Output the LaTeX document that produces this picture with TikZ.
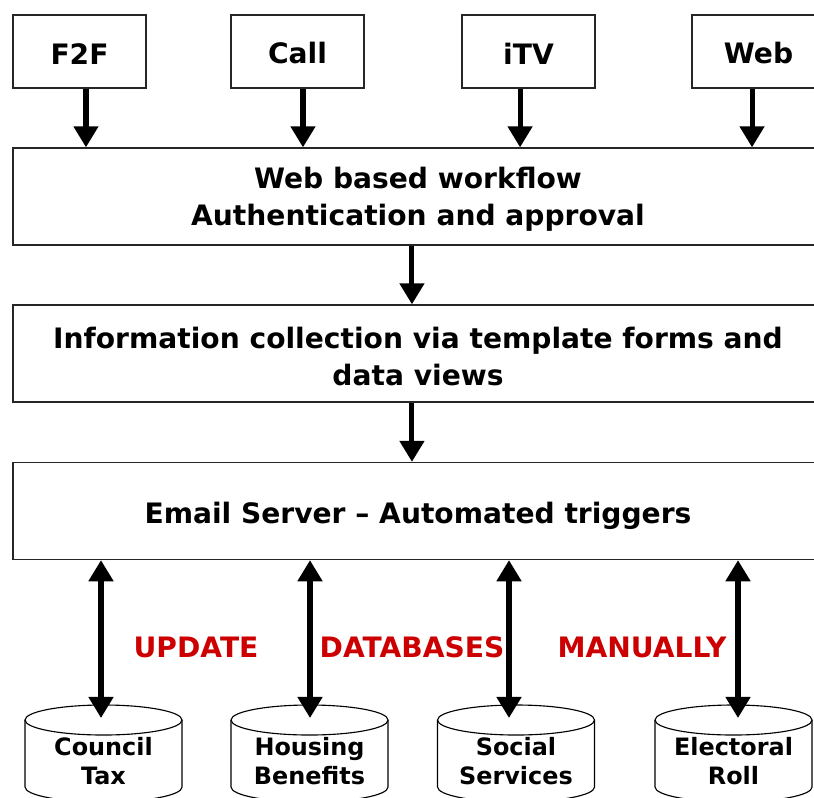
\documentclass[tikz,border=0pt]{standalone}
\usepackage{fontspec}
\setmainfont{DejaVu Sans}
\usetikzlibrary{arrows.meta}

\tikzset{
  lowered/.style={execute at begin node={\rule{0pt}{#1}}},
  chan/.style={draw=black!85, line width=0.9pt, minimum width=3.325cm, minimum height=1.825cm,
    inner sep=0pt, font=\bfseries\fontsize{20}{24}\selectfont, lowered=18pt},
  stage/.style={draw=black!85, line width=0.9pt, minimum width=20.25cm, minimum height=2.425cm,
    inner sep=0pt, align=center, font=\bfseries\fontsize{20}{26.3}\selectfont},
  db/.style={inner sep=0pt, align=center, font=\bfseries\fontsize{17}{20.6}\selectfont},
  dbline/.style={draw=black, line width=0.8pt},
  note/.style={text=red!80!black, font=\bfseries\fontsize{20}{24}\selectfont},
  arr/.style={line width=3.6pt, -{Triangle[length=15pt,width=17pt]}},
  darr/.style={line width=3.6pt, {Triangle[length=15pt,width=17pt]}-{Triangle[length=15pt,width=17pt]}}
}

\begin{document}
\begin{tikzpicture}[x=0.025cm, y=-0.025cm]
\useasboundingbox (0,0) rectangle (814,797);
% access channels
\node[chan] (f2f) at (79.5,51.5) {F2F};
\node[chan] (call) at (297.5,51.5) {Call};
\node[chan] (itv) at (528.5,51.5) {iTV};
\node[chan] (web) at (758.5,51.5) {Web};
% processing stages
\node[stage, lowered=45.7pt] (flow) at (418,196.5) {Web based workflow\\Authentication and approval};
\node[stage, lowered=45.7pt] (collect) at (418,353.5) {Information collection via template forms and\\data views};
\node[stage, lowered=22.3pt] (email) at (418,511) {Email Server -- Automated triggers};
% back office databases
\node[db] (tax) at (103.5,761.5) {Council\\Tax};
\node[db] (housing) at (309.5,761.5) {Housing\\Benefits};
\node[db] (social) at (516,761.5) {Social\\Services};
\node[db] (roll) at (733.5,761.5) {Electoral\\Roll};
\foreach \n in {tax,housing,social,roll} {
  \draw[dbline] ([shift={(0,-41.5)}]\n.center) ellipse [x radius=1.9625cm, y radius=0.375cm];
  \draw[dbline] ([shift={(-78.5,-41.5)}]\n.center) -- ([shift={(-78.5,25.5)}]\n.center)
    arc [start angle=180, end angle=360, x radius=1.9625cm, y radius=0.375cm]
    -- ([shift={(78.5,-41.5)}]\n.center);
}
% red labels
\node[note] (update) at (196,647) {UPDATE};
\node[note] (dbases) at (412,647) {DATABASES};
\node[note] (manual) at (642,647) {MANUALLY};

\foreach \n/\s in {f2f/4.6pt, call/3.9pt, itv/-6pt, web/-4.6pt}
  \draw[arr] ([xshift=\s]\n.south) -- ([xshift=\s]\n.south |- flow.north);
\draw[arr] ([xshift=-4.3pt]flow.south) -- ([xshift=-4.3pt]flow.south |- collect.north);
\draw[arr] ([xshift=-4.3pt]collect.south) -- ([xshift=-4.3pt]collect.south |- email.north);
\foreach \n/\s in {tax/-2.5, housing/0.5, social/-7, roll/4.5}
  \draw[darr] ([shift={(\s,0)}]\n.center |- email.south) -- ([shift={(\s,-43.5)}]\n.center);
\end{tikzpicture}
\end{document}
